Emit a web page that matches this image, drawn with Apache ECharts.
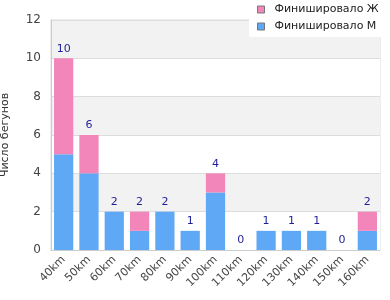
<!DOCTYPE html>
<html>
<head>
<meta charset="utf-8">
<script src="https://cdn.jsdelivr.net/npm/echarts@6/dist/echarts.min.js"></script>
<style>
  html, body { margin: 0; padding: 0; background: #fff; }
  #chart { width: 390px; height: 300px; }
</style>
</head>
<body>
<div id="chart"></div>
<script>
const categories = ['40km', '50km', '60km', '70km', '80km', '90km', '100km', '110km', '120km', '130km', '140km', '150km', '160km']
const menFinished = [5, 4, 2, 1, 2, 1, 3, 0, 1, 1, 1, 0, 1]
const womenFinished = [5, 2, 0, 1, 0, 0, 1, 0, 0, 0, 0, 0, 1]
const totals = [10, 6, 2, 2, 2, 1, 4, 0, 1, 1, 1, 0, 2]
const yTicks = [0, 2, 4, 6, 8, 10, 12]

const blueColor = '#5fa8f5', pinkColor = '#f285ba', labelColor = '#1f1f99'

let myChart = echarts.init(document.getElementById('chart'))
myChart.setOption({
  animation: false,
  textStyle: { fontFamily: 'DejaVu Sans' },
  grid: {
    left: 51,
    right: 10,
    top: 20,
    bottom: 50,
    outerBoundsMode: 'none',
    containLabel: false,
    show: true,
    borderColor: '#dddddd',
    borderWidth: 1
  },
  legend: {
    data: ['Финишировало Ж', 'Финишировало М'],
    orient: 'vertical',
    left: 249,
    top: 0,
    padding: [4, 18, 5, 8],
    backgroundColor: '#ffffff',
    icon: 'rect',
    itemWidth: 7,
    itemHeight: 7,
    itemGap: 6,
    itemStyle: { borderColor: '#777777', borderWidth: 1 },
    textStyle: { fontSize: 11, color: '#222222', fontFamily: 'DejaVu Sans', padding: [0, 0, 0, 5] }
  },
  xAxis: {
    type: 'category',
    data: categories,
    axisLine: { lineStyle: { color: '#cccccc' } },
    axisTick: { show: false },
    axisLabel: { rotate: 45, fontSize: 11, color: '#444444', margin: 8, interval: 0 }
  },
  yAxis: {
    type: 'value',
    min: yTicks[0],
    max: yTicks[yTicks.length - 1],
    interval: 2,
    name: 'Число бегунов',
    nameLocation: 'middle',
    nameGap: 40,
    nameTextStyle: { fontSize: 11, color: '#333333' },
    axisLine: { show: true, lineStyle: { color: '#cccccc' } },
    axisTick: { show: false },
    axisLabel: { fontSize: 12, color: '#444444', margin: 10 },
    splitLine: { lineStyle: { color: '#dddddd' } },
    splitArea: { show: true, areaStyle: { color: ['#ffffff', '#f2f2f2'] } }
  },
  series: [
    {
      name: 'Финишировало М',
      type: 'bar',
      stack: 'all',
      barWidth: '76%',
      itemStyle: { color: blueColor },
      data: menFinished
    },
    {
      name: 'Финишировало Ж',
      type: 'bar',
      stack: 'all',
      barWidth: '76%',
      itemStyle: { color: pinkColor },
      data: womenFinished
    },
    {
      // сумма над столбиком
      name: 'total',
      type: 'bar',
      barGap: '-100%',
      barWidth: '76%',
      itemStyle: { color: 'rgba(0,0,0,0)' },
      label: { show: true, position: 'top', distance: 4, fontSize: 11, color: labelColor },
      data: totals,
      z: 5
    }
  ]
})
</script>
</body>
</html>
